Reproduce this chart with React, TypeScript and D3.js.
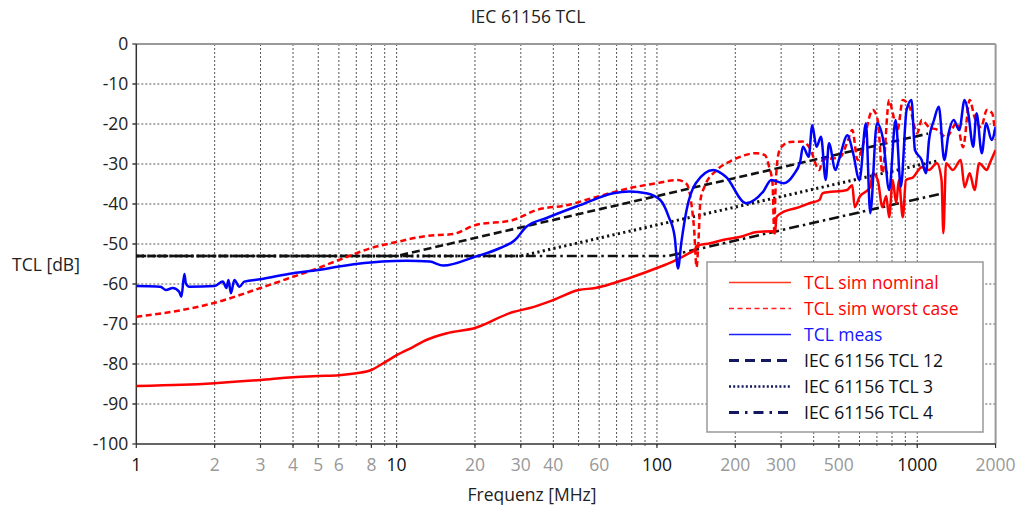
import React from 'react'
import * as d3 from 'd3'

// frequency in MHz, TCL in dB
const simNominal: [number, number][] = [
  [1, -85.5], [1.5, -85.2], [2, -84.8], [3, -84], [4, -83.3], [5, -83], [6, -82.8], [7, -82.3],
  [8, -81.5], [9, -79.6], [10, -77.8], [11.6, -75.7], [13, -74], [15.6, -72.3], [20, -71],
  [28, -67], [32.5, -66], [40, -64], [50, -61.5], [58, -61], [68, -59.8], [81, -58.2], [100, -56],
  [115, -54.4], [133, -52.3], [140, -51.4], [142, -50.5], [160, -49.8], [179, -49], [210, -48.2],
  [242, -47], [278, -46.8], [284, -47.4], [288, -43.3], [300, -42.3], [352, -40.8], [385, -39.8],
  [421, -39], [433, -37.3], [537, -36.5], [563, -35.3], [575, -40.8], [600, -38.3], [660, -35.8],
  [675, -32.3], [705, -34], [735, -40.8], [760, -38], [780, -43.3], [805, -34], [830, -39.8],
  [850, -34], [880, -43.3], [905, -34], [965, -33.3], [1040, -30.8], [1110, -31.5], [1190, -29.8],
  [1240, -34], [1260, -47.3], [1290, -29.8], [1370, -31.5], [1470, -29], [1520, -35.8],
  [1590, -32.3], [1660, -36.5], [1730, -29.8], [1850, -31.5], [1900, -29.8], [2000, -26.5],
]

const simWorst: [number, number][] = [
  [1, -68.2], [1.5, -66.5], [2, -64.7], [3, -61], [4, -58.2], [5, -56], [6, -54], [8, -51],
  [10, -49.5], [13, -48], [16.5, -47.5], [20, -45.3], [28, -44], [34.5, -41.5], [45, -40.3],
  [58, -38.3], [79, -36], [100, -34.8], [120, -34], [130, -35], [135, -39], [139, -46.5],
  [142, -55.8], [144, -50.8], [147, -39], [152, -35.8], [170, -31.5], [196, -29], [241, -27.3],
  [260, -27.8], [270, -30.8], [278, -34.8], [282, -46.5], [286, -35], [292, -28], [300, -25.8],
  [325, -24.5], [362, -24.4], [385, -25.8], [421, -31.5], [433, -29], [505, -28.3], [537, -24.8],
  [563, -21.5], [590, -29], [615, -25.8], [675, -16.5], [705, -19], [735, -32.3], [780, -14],
  [805, -17.3], [840, -21.5], [880, -14], [935, -15.8], [1000, -22.3], [1040, -19], [1110, -20.8],
  [1200, -21.5], [1290, -23.3], [1420, -19.8], [1500, -25.8], [1590, -14], [1660, -18.3],
  [1760, -20.8], [1850, -16.5], [1940, -17.3], [2000, -24],
]

const meas: [number, number][] = [
  [1, -60.5], [1.2, -60.6], [1.24, -60.7], [1.3, -61.5], [1.38, -61], [1.46, -61.9], [1.49, -63.2],
  [1.53, -57.5], [1.55, -59.8], [1.6, -60.7], [2, -60.5], [2.15, -59.4], [2.22, -61], [2.26, -59],
  [2.31, -62.3], [2.38, -59], [2.49, -60.7], [2.6, -59.4], [3, -58.8], [4, -57.3], [5, -56.5],
  [6.2, -55.5], [8.8, -54.4], [10.9, -54.2], [13.4, -54.4], [15.1, -55.4], [20, -53.2], [25, -51],
  [28.5, -49], [31.5, -45.7], [37.7, -43.5], [50.6, -40.3], [68, -37.3], [78.5, -36.9], [91, -37.3],
  [103, -39], [111, -43.2], [117, -48.2], [120.5, -56.1], [124, -49.8], [130, -41.5], [141, -34.8],
  [165, -31.5], [184, -33.2], [220, -39.8], [256, -36.9], [275, -34], [307, -34.8], [334, -32.8],
  [355, -29.4], [364, -25.7], [383, -28.2], [395, -20.3], [410, -25.7], [427, -23.2], [445, -34],
  [458, -24.8], [485, -31.5], [500, -29], [540, -22.8], [567, -27.3], [600, -34], [635, -19.8],
  [660, -42.3], [700, -19.8], [740, -24], [780, -36.5], [826, -19], [865, -35.7], [910, -16.5],
  [950, -14], [980, -26.5], [1040, -29], [1080, -32.3], [1110, -24], [1160, -19], [1210, -15.7],
  [1270, -29], [1320, -22.3], [1380, -19], [1450, -21.5], [1520, -14], [1570, -17.3], [1640, -25.7],
  [1690, -17.3], [1770, -27.3], [1840, -19.8], [1930, -24], [2000, -20.7],
]

const iec12: [number, number][] = [[1, -53], [10, -53], [1100, -22.4]]
const iec3: [number, number][] = [[1, -53], [30, -53], [1200, -29.2]]
const iec4: [number, number][] = [[1, -53], [110, -53], [1220, -37.5]]

const xTickLabels = [1, 2, 3, 4, 5, 6, 8, 10, 20, 30, 40, 60, 100, 200, 300, 500, 1000, 2000]
const yTicks = [0, -10, -20, -30, -40, -50, -60, -70, -80, -90, -100]

const legendItems = [
  { label: 'TCL sim nominal', color: '#ff3a1f', text: '#ff0000', dash: '', w: 1.6 },
  { label: 'TCL sim worst case', color: '#ff2020', text: '#ff0000', dash: '5,3.5', w: 1.6 },
  { label: 'TCL meas', color: '#1f1fff', text: '#1515ff', dash: '', w: 1.6 },
  { label: 'IEC 61156 TCL 12', color: '#141860', text: '#111', dash: '10,6', w: 3 },
  { label: 'IEC 61156 TCL 3', color: '#141860', text: '#111', dash: '2,2.2', w: 2.6 },
  { label: 'IEC 61156 TCL 4', color: '#141860', text: '#111', dash: '10,6,2.5,6', w: 3 },
]

const W = 1018
const H = 509
const font = '"Open Sans", "Noto Sans", sans-serif'
const fs = 17.5

export default function App() {
  const x = d3.scaleLog().domain([1, 2000]).range([136.3, 995.6])
  const y = d3.scaleLinear().domain([-100, 0]).range([444, 44])

  const gridX: number[] = []
  for (let dec = 1; dec <= 1000; dec *= 10) {
    for (let k = 2; k <= 9; k++) {
      if (dec * k < 2000) gridX.push(dec * k)
    }
    if (dec > 1) gridX.push(dec)
  }

  const line = d3.line<[number, number]>()
    .x(d => x(d[0]))
    .y(d => y(d[1]))
  const smooth = d3.line<[number, number]>()
    .x(d => x(d[0]))
    .y(d => y(d[1]))
    .curve(d3.curveMonotoneX)

  const [x0, x1] = x.range()
  const [y0, y1] = y.range()

  return (
    <svg width={W} height={H} style={{ position: 'absolute', left: 0, top: 0, background: '#fff' }}
      fontFamily={font}>
      <defs>
        <clipPath id="plot">
          <rect x={x0} y={y1} width={x1 - x0} height={y0 - y1} />
        </clipPath>
      </defs>

      <text x={528} y={23} textAnchor="middle" fontSize={fs} fill="#222">IEC 61156 TCL</text>

      {/* grid */}
      {gridX.map(f => (
        <line key={'gx' + f} x1={x(f)} x2={x(f)} y1={y1} y2={y0 + 3}
          stroke="#555" strokeWidth={1} strokeDasharray="2,2" />
      ))}
      {yTicks.filter(v => v > -100 && v < 0).map(v => (
        <line key={'gy' + v} x1={x0 - 3} x2={x1} y1={y(v)} y2={y(v)}
          stroke="#555" strokeWidth={1} strokeDasharray="2,2" />
      ))}

      {/* frame */}
      <line x1={x0} x2={x1} y1={y1} y2={y1} stroke="#999" strokeWidth={2} />
      <line x1={x1} x2={x1} y1={y1} y2={y0} stroke="#999" strokeWidth={2} />
      <line x1={x0} x2={x0} y1={y1} y2={y0} stroke="#333" strokeWidth={1.5} />
      <line x1={x0} x2={x1} y1={y0} y2={y0} stroke="#333" strokeWidth={1.5} />
      {yTicks.map(v => (
        <g key={'yt' + v}>
          <line x1={x0 - 4} x2={x0} y1={y(v)} y2={y(v)} stroke="#333" strokeWidth={1.2} />
          <text x={x0 - 8} y={y(v)} dy="0.35em" textAnchor="end" fontSize={fs} fill="#222">{v}</text>
        </g>
      ))}
      {xTickLabels.map(f => {
        const major = Math.log10(f) % 1 === 0
        return (
          <g key={'xt' + f}>
            <line x1={x(f)} x2={x(f)} y1={y0} y2={y0 + 4} stroke="#333" strokeWidth={1.2} />
            <text x={x(f)} y={465} dy="0.35em" textAnchor="middle" fontSize={fs}
              fill={major ? '#111' : '#999'}>{f}</text>
          </g>
        )
      })}

      <text x={46} y={265} dy="0.35em" textAnchor="middle" fontSize={fs} fill="#222">TCL [dB]</text>
      <text x={532} y={495} dy="0.35em" textAnchor="middle" fontSize={fs} fill="#222">Frequenz [MHz]</text>

      {/* series */}
      <g clipPath="url(#plot)" fill="none">
        <path d={line(iec12) ?? ''} stroke="#111" strokeWidth={2.6} strokeDasharray="8,4" />
        <path d={line(iec3) ?? ''} stroke="#111" strokeWidth={3} strokeDasharray="2.2,3.3" />
        <path d={line(iec4) ?? ''} stroke="#111" strokeWidth={2.6} strokeDasharray="10,4,2.5,4" />
        <path d={smooth(simNominal) ?? ''} stroke="#ff0000" strokeWidth={2.5} />
        <path d={smooth(simWorst) ?? ''} stroke="#ff0000" strokeWidth={2.5} strokeDasharray="6,3.5" />
        <path d={smooth(meas) ?? ''} stroke="#0000ff" strokeWidth={2.5} />
      </g>

      {/* legend */}
      <rect x={707} y={262} width={276} height={170} fill="#fff" stroke="#999" strokeWidth={1.5} />
      {legendItems.map((it, i) => {
        const ly = 282.5 + i * 26
        return (
          <g key={it.label}>
            <line x1={729} x2={791} y1={ly} y2={ly} stroke={it.color} strokeWidth={it.w}
              strokeDasharray={it.dash || undefined} />
            <text x={804} y={ly} dy="0.35em" fontSize={fs} fill={it.text}>{it.label}</text>
          </g>
        )
      })}
    </svg>
  )
}
